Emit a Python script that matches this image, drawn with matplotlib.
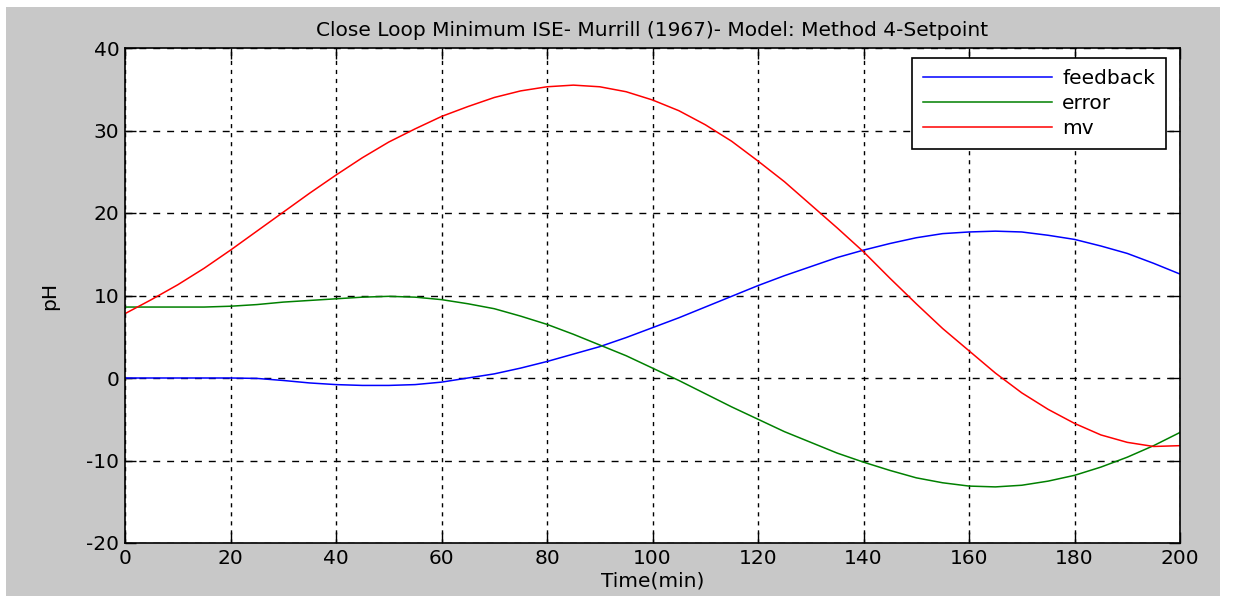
import numpy as np
import matplotlib
matplotlib.use('Agg')
import matplotlib.pyplot as plt
from matplotlib.patches import Rectangle

plt.rcParams['font.family'] = ['DejaVu Sans']
plt.rcParams['axes.unicode_minus'] = False

# values, every 5 min
time = list(range(0, 201, 5))
feedback = [0, 0, 0, 0, 0, -0.05, -0.3, -0.6, -0.8, -0.9, -0.9, -0.8, -0.5, 0, 0.5,
            1.2, 2.0, 2.9, 3.8, 4.9, 6.1, 7.3, 8.6, 9.9, 11.2, 12.4, 13.5, 14.6, 15.5,
            16.3, 17.0, 17.5, 17.7, 17.8, 17.7, 17.3, 16.8, 16.0, 15.1, 13.9, 12.6]
error = [8.6, 8.6, 8.6, 8.6, 8.7, 8.9, 9.2, 9.4, 9.6, 9.8, 9.9, 9.8, 9.5, 9.0, 8.4,
         7.5, 6.5, 5.3, 4.0, 2.7, 1.2, -0.3, -1.9, -3.5, -5.0, -6.5, -7.8, -9.1, -10.2,
         -11.2, -12.1, -12.7, -13.1, -13.2, -13.0, -12.5, -11.8, -10.8, -9.6, -8.2, -6.6]
mv = [7.8, 9.5, 11.3, 13.3, 15.5, 17.8, 20.1, 22.4, 24.6, 26.7, 28.6, 30.2, 31.7, 32.9,
      34.0, 34.8, 35.3, 35.5, 35.3, 34.7, 33.7, 32.4, 30.7, 28.7, 26.3, 23.8, 21.0, 18.2,
      15.3, 12.1, 9.0, 6.0, 3.3, 0.6, -1.8, -3.8, -5.5, -6.9, -7.8, -8.3, -8.2]

xticks = list(range(0, 201, 20))
yticks = list(range(-20, 41, 10))

fs = 14.5

fig = plt.figure(figsize=(12.34, 5.96), dpi=100, facecolor='white')
# gray figure panel (MATLAB style), with thin white margin
fig.patches.append(Rectangle((6 / 1234, 0), 1214 / 1234, 589 / 596,
                             transform=fig.transFigure, facecolor='#c8c8c8',
                             edgecolor='none', zorder=-10))

ax = fig.add_axes([125 / 1234, 53 / 596, 1055 / 1234, 495 / 596])
ax.set_facecolor('white')

ax.plot(time, feedback, color='#0000ff', lw=1.1, label='feedback')
ax.plot(time, error, color='#008000', lw=1.1, label='error')
ax.plot(time, mv, color='#ff0000', lw=1.1, label='mv')

ax.set_xlim(0, 200)
ax.set_ylim(-20, 40)
ax.set_xticks(xticks)
ax.set_yticks(yticks)
ax.xaxis.grid(True, color='black', linestyle=(0, (3, 3.5)), linewidth=1)
ax.yaxis.grid(True, color='black', linestyle=(0, (5, 5)), linewidth=1)
ax.tick_params(direction='in', length=8, width=1, top=True, right=True,
               labelsize=fs, colors='black', pad=4)
for s in ax.spines.values():
    s.set_linewidth(1.2)

ax.set_title('Close Loop Minimum ISE- Murrill (1967)- Model: Method 4-Setpoint',
             fontsize=fs, pad=9)
ax.set_xlabel('Time(min)', fontsize=fs, labelpad=3)
ax.set_ylabel('pH', fontsize=fs, labelpad=20)

leg = ax.legend(loc='upper right', bbox_to_anchor=(1041 / 1055, 485 / 495),
                borderaxespad=0, fontsize=fs, handlelength=6.4, fancybox=False,
                framealpha=1, edgecolor='black', labelspacing=0.3,
                borderpad=0.55, handletextpad=0.5)
leg.get_frame().set_linewidth(1.2)

fig.savefig('out.png', dpi=100, facecolor=fig.get_facecolor())
